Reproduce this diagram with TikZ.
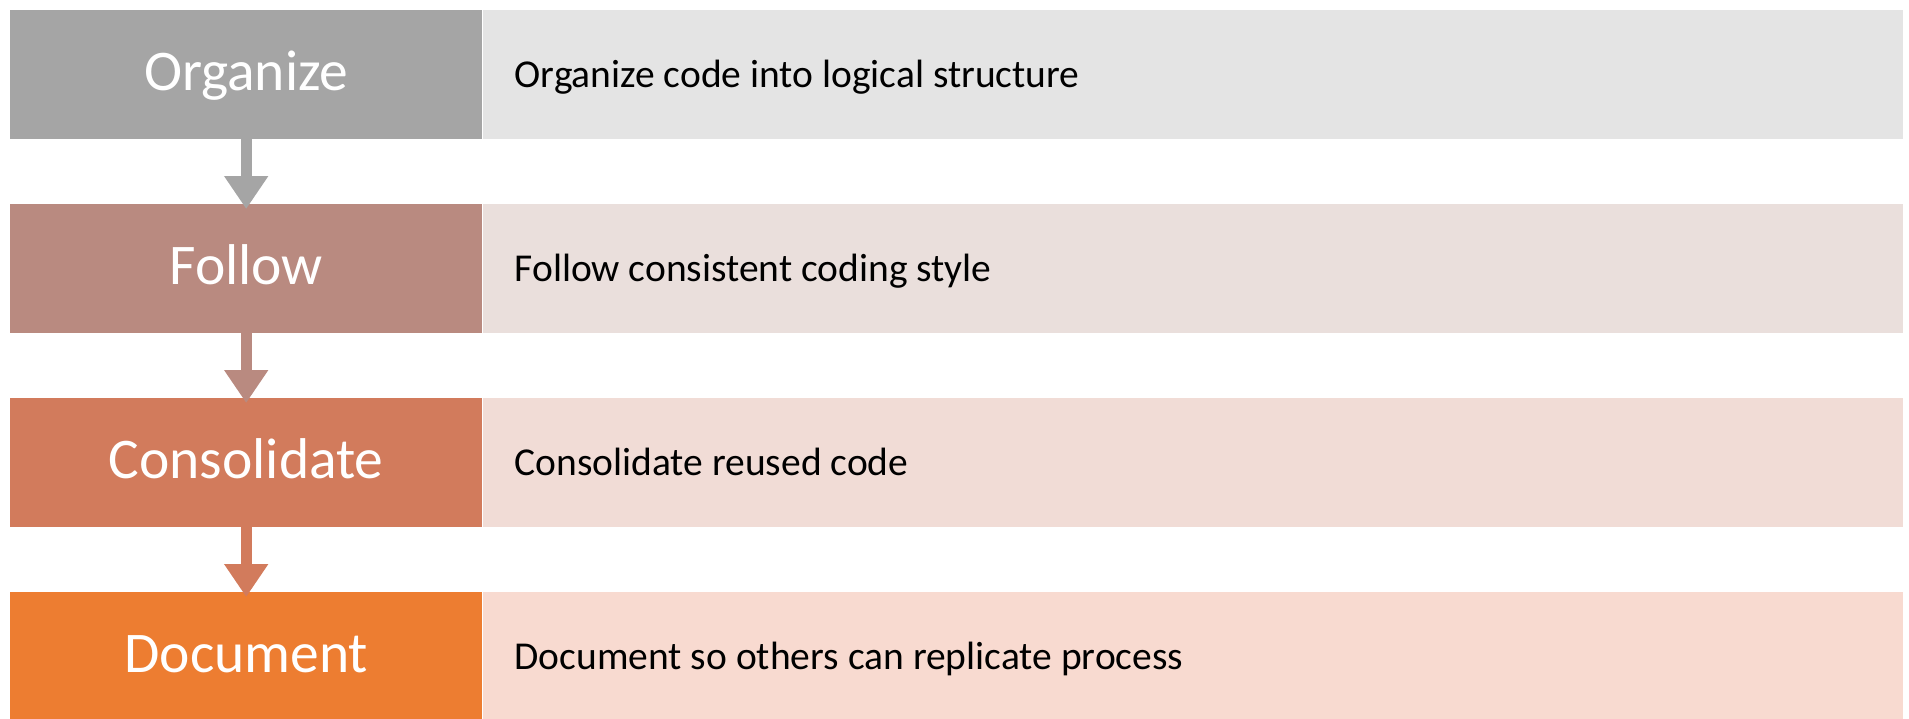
\documentclass[tikz,border=0pt]{standalone}
\usepackage{fontspec}
\setmainfont{Carlito}
\usetikzlibrary{arrows.meta,calc,positioning}

% step colours: strong shade for the label box, pale shade for the description
\definecolor{grayS}{HTML}{A5A5A5}\definecolor{grayP}{HTML}{E4E4E4}
\definecolor{roseS}{HTML}{B98A80}\definecolor{roseP}{HTML}{EADFDC}
\definecolor{clayS}{HTML}{D27B5C}\definecolor{clayP}{HTML}{F1DCD6}
\definecolor{orngS}{HTML}{ED7D31}\definecolor{orngP}{HTML}{F8DAD0}

\tikzset{
  x=1pt, y=-1pt,
  labelbox/.style={fill=#1, minimum width=472pt, minimum height=129pt,
    inner sep=0pt, anchor=north west, text=white,
    text height=32pt, text depth=0pt,
    font=\fontsize{57.5}{62}\selectfont},
  descbox/.style={fill=#1, minimum width=1420pt, minimum height=129pt,
    inner sep=0pt, anchor=north west},
  desctext/.style={anchor=base west, inner sep=0pt, text=black,
    font=\fontsize{39.5}{44}\selectfont},
  flow/.style={draw=#1, line width=11pt,
    -{Triangle[width=42pt,length=33pt]}, shorten >=-5pt},
}

\begin{document}
\begin{tikzpicture}
\clip (0,0) rectangle (1909,718);
\fill[white] (0,0) rectangle (1909,718);

% label boxes
\node[labelbox=grayS] (L1) at (10,10)  {Organize};
\node[labelbox=roseS] (L2) at (10,204) {Follow};
\node[labelbox=clayS] (L3) at (10,398) {Consolidate};
\node[labelbox=orngS] (L4) at (10,592) {Document};

% description boxes
\node[descbox=grayP] (R1) at (L1.north east) {};
\node[descbox=roseP] (R2) at (L2.north east) {};
\node[descbox=clayP] (R3) at (L3.north east) {};
\node[descbox=orngP] (R4) at (L4.north east) {};

\node[desctext] (T1) at ($(R1.north west)+(32,77)$) {Organize code into logical structure};
\node[desctext] (T2) at ($(R2.north west)+(32,77)$) {Follow consistent coding style};
\node[desctext] (T3) at ($(R3.north west)+(32,77)$) {Consolidate reused code};
\node[desctext] (T4) at ($(R4.north west)+(32,77)$) {Document so others can replicate process};

% flow arrows between steps
\draw[flow=grayS] (L1.south) -- (L2.north);
\draw[flow=roseS] (L2.south) -- (L3.north);
\draw[flow=clayS] (L3.south) -- (L4.north);
\end{tikzpicture}
\end{document}
